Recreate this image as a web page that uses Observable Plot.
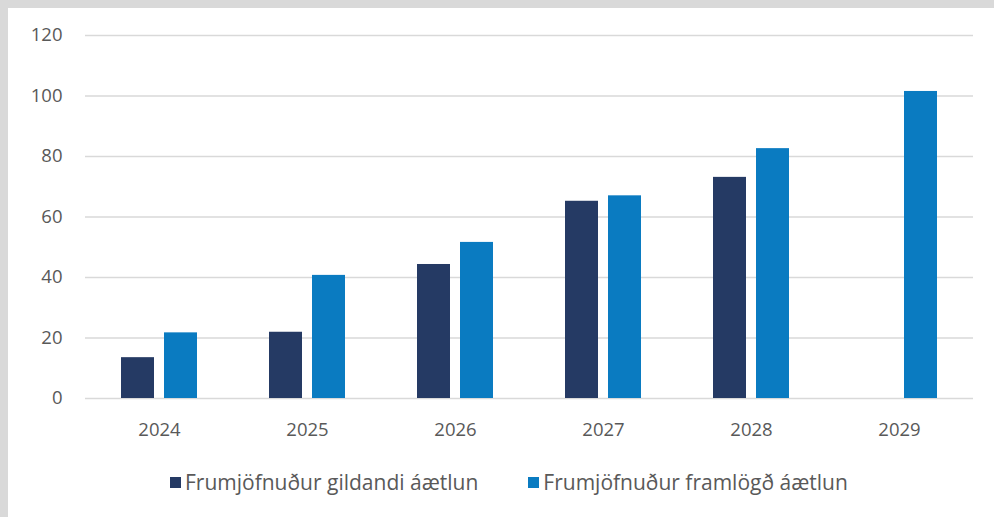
<!DOCTYPE html>
<html><head><meta charset="utf-8">
<script src="https://cdn.jsdelivr.net/npm/d3@7"></script>
<script src="https://cdn.jsdelivr.net/npm/@observablehq/plot@0.6"></script>
<style>
html,body{margin:0;padding:0;}
body{background:#d9d9d9;width:994px;height:517px;overflow:hidden;font-family:"Open Sans",sans-serif;position:relative;}
#panel{position:absolute;left:8px;top:8px;width:986px;height:509px;background:#fff;}
#chart{position:absolute;left:0;top:0;}
#legend{position:absolute;left:162px;top:460px;display:flex;align-items:center;font-size:21px;color:#595959;white-space:nowrap;}
.item{display:flex;align-items:center;}
.sw{width:11px;height:11px;margin-right:4px;display:inline-block;}
</style>
</head><body>
<div id="panel"><div id="chart"></div><div id="legend"></div></div>
<script>
const years = ["2024", "2025", "2026", "2027", "2028", "2029"];
const seriesNames = ["Frumjöfnuður gildandi áætlun", "Frumjöfnuður framlögð áætlun"];
const gildandi = [13.5, 21.9, 44.3, 65.2, 73.1, null];
const framlogd = [21.7, 40.7, 51.6, 67.0, 82.6, 101.5];
const yTicks = [0, 20, 40, 60, 80, 100, 120];
const colors = ["#253a64", "#0a7bc1"];

const rows = [];
years.forEach((yr, i) => {
  if (gildandi[i] != null) rows.push({year: yr, series: seriesNames[0], value: gildandi[i]});
  if (framlogd[i] != null) rows.push({year: yr, series: seriesNames[1], value: framlogd[i]});
});

const chart = Plot.plot({
  width: 986, height: 440,
  marginLeft: 77, marginRight: 21, marginTop: 27, marginBottom: 50,
  style: {fontFamily: "'Open Sans', sans-serif", fontSize: "18.5px", color: "#595959", background: "transparent", overflow: "visible"},
  fx: {domain: years, padding: 0, label: null, axis: null},
  x: {domain: seriesNames, paddingInner: 0.2326, paddingOuter: 0.837, axis: null},
  y: {domain: [0, 120], label: null, axis: null},
  color: {domain: seriesNames, range: colors},
  marks: [
    Plot.gridY(yTicks, {stroke: "#d9d9d9", strokeOpacity: 1, strokeWidth: 1.5}),
    Plot.barY(rows, {fx: "year", x: "series", y: "value", fill: "series"}),
    Plot.axisY(yTicks, {anchor: "left", tickSize: 0, tickPadding: 23, label: null, fill: "#595959"}),
    Plot.axisFx({anchor: "bottom", tickSize: 0, tickPadding: 24, label: null, fill: "#595959"})
  ]
});
document.getElementById("chart").appendChild(chart);

const legend = document.getElementById("legend");
seriesNames.forEach((name, i) => {
  const it = document.createElement("div");
  it.className = "item";
  if (i > 0) it.style.marginLeft = "50px";
  const sw = document.createElement("span");
  sw.className = "sw";
  sw.style.background = colors[i];
  const t = document.createElement("span");
  t.textContent = name;
  it.appendChild(sw); it.appendChild(t);
  legend.appendChild(it);
});
</script>
</body></html>
